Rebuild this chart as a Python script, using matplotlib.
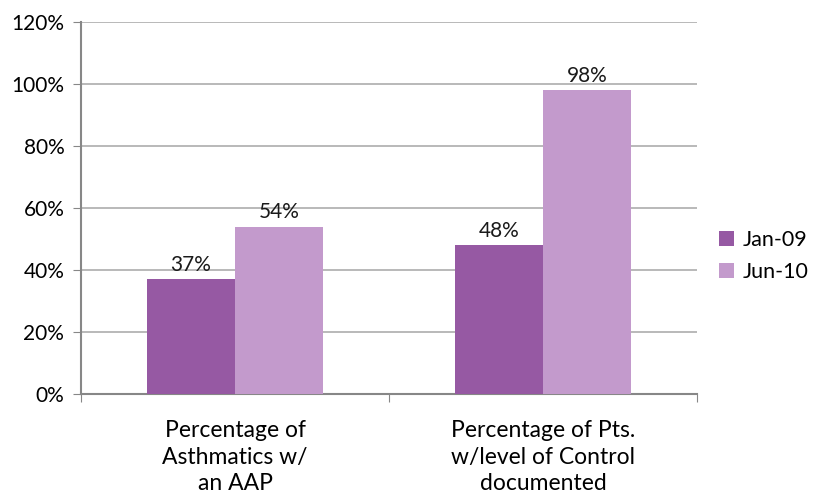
import numpy as np
import matplotlib.pyplot as plt
from matplotlib.ticker import PercentFormatter

categories = ["Percentage of\nAsthmatics w/\nan AAP", "Percentage of Pts.\nw/level of Control\ndocumented"]
series_names = ["Jan-09", "Jun-10"]
jan09 = [37, 48]
jun10 = [54, 98]
colors = ["#9659A3", "#C39ACC"]

plt.rcParams['font.family'] = ['Lato', 'DejaVu Sans']

fig = plt.figure(figsize=(8.15, 4.97), dpi=100)
ax = fig.add_axes([0.0994, 0.2072, 0.7558, 0.7485])

x = np.arange(len(categories))
w = 0.286
for i, (vals, name) in enumerate(zip([jan09, jun10], series_names)):
    pos = x + (i - 0.5) * w
    bars = ax.bar(pos, vals, w, color=colors[i], label=name, zorder=3)
    for b, v in zip(bars, vals):
        ax.text(b.get_x() + b.get_width() / 2, v + 1.5, f"{v}%", ha='center', va='bottom',
                fontsize=15, color='#1a1a1a')

ax.set_xlim(-0.5, 1.5)
ax.set_ylim(0, 120)
ax.set_yticks(range(0, 121, 20))
ax.yaxis.set_major_formatter(PercentFormatter(100, decimals=0))
ax.grid(axis='y', color='#ADADAD', linewidth=1.2, zorder=0)

ax.set_xticks([-0.5, 0.5, 1.5])
ax.set_xticklabels([])
ax.set_xticks(x, minor=True)
ax.set_xticklabels(categories, minor=True, fontsize=16.5, linespacing=1.3)
ax.tick_params(axis='x', which='minor', length=0, pad=19)
ax.tick_params(axis='x', which='major', length=6, color='#878787', direction='out')
ax.tick_params(axis='y', length=6, color='#878787', labelsize=15, pad=6)

for s in ['top', 'right']:
    ax.spines[s].set_visible(False)
for s in ['left', 'bottom']:
    ax.spines[s].set_color('#878787')
    ax.spines[s].set_linewidth(1.5)

ax.legend(loc='center left', bbox_to_anchor=(0.877, 0.485), bbox_transform=fig.transFigure,
          frameon=False, fontsize=15.5, handlelength=0.7, handleheight=0.7, handletextpad=0.4,
          labelspacing=0.55, borderaxespad=0, borderpad=0.2)

fig.savefig("out.png", dpi=100)
